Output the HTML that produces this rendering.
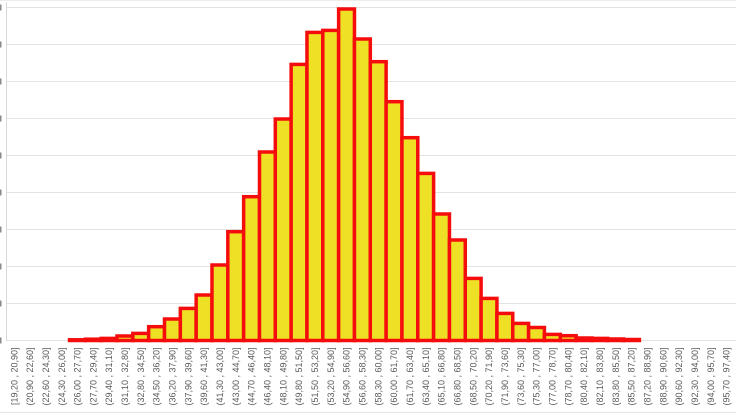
<!DOCTYPE html>
<html>
<head>
<meta charset="utf-8">
<style>
  html,body{margin:0;padding:0;background:#fff;}
  body{width:736px;height:415px;overflow:hidden;}
  svg{display:block;}
  text{font-family:"Liberation Sans",sans-serif;font-size:9px;fill:#595959;}
</style>
</head>
<body>
<svg id="c" width="736" height="415" viewBox="0 0 736 415" xmlns="http://www.w3.org/2000/svg">
  <rect width="736" height="415" fill="#fff"/>
  <line x1="0" y1="0.5" x2="736" y2="0.5" stroke="#ececec" stroke-width="1"/>
  <line x1="0" y1="412.5" x2="736" y2="412.5" stroke="#e6e6e6" stroke-width="1"/>
  <g id="grid" stroke="#e3e3e3" stroke-width="1"></g>
  <line x1="6.5" y1="2" x2="6.5" y2="341" stroke="#d9d9d9" stroke-width="1"/>
  <g id="ticks" fill="#8a8a8a"></g>
  <g id="bars" fill="#EEE125" stroke="#F50D0D" stroke-width="3.5" stroke-linejoin="miter"></g>
  <g id="labels"></g>
</svg>
<script>
(function(){
  var NS="http://www.w3.org/2000/svg";
  var base=340.5, step=37;
  var grid=document.getElementById('grid');
  var ticks=document.getElementById('ticks');
  for(var k=0;k<=9;k++){
    var y=base-k*step;
    var l=document.createElementNS(NS,'line');
    l.setAttribute('x1',6.5);l.setAttribute('x2',736);
    l.setAttribute('y1',y);l.setAttribute('y2',y);
    grid.appendChild(l);
    var r=document.createElementNS(NS,'rect');
    r.setAttribute('x',0);r.setAttribute('y',y-3);
    r.setAttribute('width',1.5);r.setAttribute('height',6);
    ticks.appendChild(r);
  }
  var L=6.2, w=15.83;
  var tops={4:339.8,5:339.2,6:338.4,7:336,8:333.4,9:326.7,10:319,11:308.4,12:295,13:265,14:231.7,15:196.7,16:152,17:119,18:64.4,19:32.4,20:30.4,21:9,22:39,23:61.7,24:101.7,25:137.7,26:173.4,27:214,28:240,29:278.4,30:298.4,31:313.4,32:323.4,33:327.5,34:334.4,35:335.7,36:338,37:338.4,38:339,39:339.5};
  var bars=document.getElementById('bars');
  for(var i=4;i<=39;i++){
    var t=tops[i];
    var r=document.createElementNS(NS,'rect');
    r.setAttribute('x',(L+i*w).toFixed(2));
    r.setAttribute('y',t);
    r.setAttribute('width',w.toFixed(2));
    r.setAttribute('height',(base-t).toFixed(2));
    bars.appendChild(r);
  }
  function f(v){return v.toFixed(2).replace('.',',');}
  var labels=document.getElementById('labels');
  for(var i=0;i<46;i++){
    var a=19.2+1.7*i, b=a+1.7;
    var s=(i===0?'[':'(')+f(a)+' , '+f(b)+']';
    var cx=L+(i+0.5)*w, ty=347.5;
    var tx=document.createElementNS(NS,'text');
    tx.setAttribute('x',cx.toFixed(2));
    tx.setAttribute('y',ty);
    tx.setAttribute('dy','0.35em');
    tx.setAttribute('text-anchor','end');
    tx.setAttribute('transform','rotate(-90 '+cx.toFixed(2)+' '+ty+')');
    tx.textContent=s;
    labels.appendChild(tx);
  }
})();
</script>
</body>
</html>
